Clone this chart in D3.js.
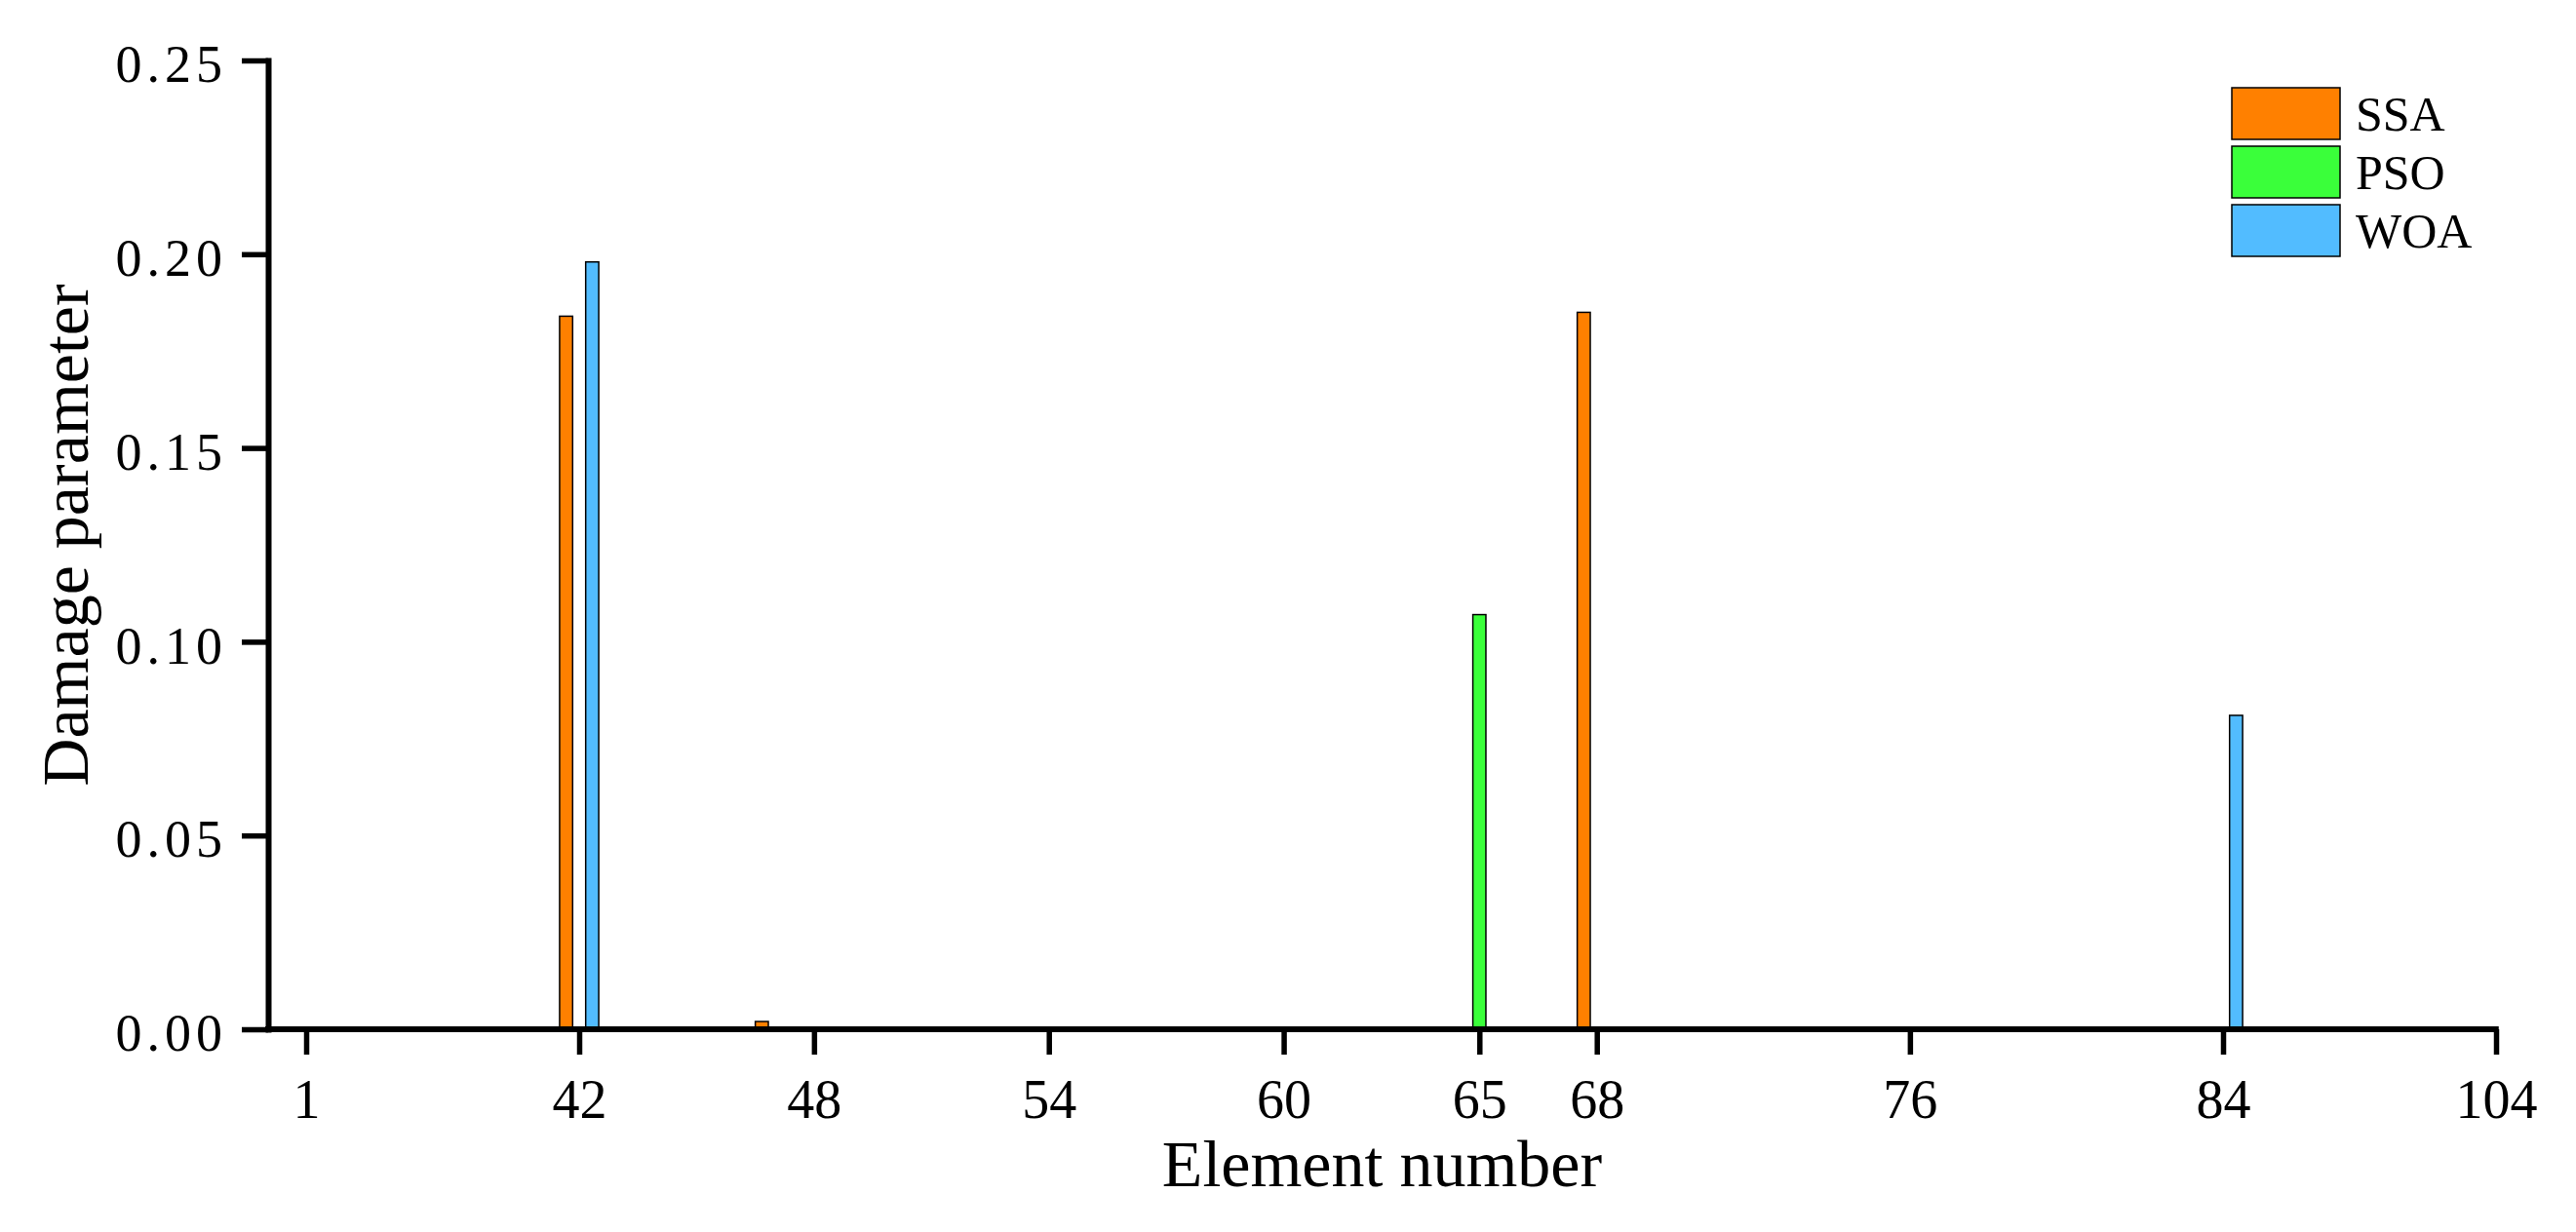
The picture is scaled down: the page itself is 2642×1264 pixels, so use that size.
<!DOCTYPE html>
<html>
<head>
<meta charset="utf-8">
<script src="https://cdn.jsdelivr.net/npm/d3@7"></script>
<style>
  html, body { margin: 0; padding: 0; background: #fff; }
  svg { display: block; }
  text { font-family: "Liberation Serif", "Times New Roman", serif; fill: #000; }
</style>
</head>
<body>
<div id="chart"></div>
<script>
// ---- Data ----
const seriesNames = ["SSA", "PSO", "WOA"];
const seriesColors = ["#FF8000", "#3AFF3A", "#52BCFF"];
const elements = [42, 47, 65, 68, 84];
const ssaValues = [0.184, 0.002, 0, 0.185, 0];
const psoValues = [0, 0, 0.107, 0, 0];
const woaValues = [0.198, 0, 0, 0, 0.081];
const xTickValues = [1, 42, 48, 54, 60, 65, 68, 76, 84, 104];
const xScaleBreaks = [1, 42, 84, 104];
const yTickValues = [0, 0.05, 0.10, 0.15, 0.20, 0.25];
const xTitle = "Element number";
const yTitle = "Damage parameter";

// ---- Layout ----
const W = 2642, H = 1264;
const plotLeft = 275, plotBottom = 1056, plotTop = 62;
const xRange = [314, 594, 2280, 2560];

const svg = d3.select("#chart").append("svg")
  .attr("width", W).attr("height", H);

const x = d3.scaleLinear().domain(xScaleBreaks).range(xRange);
const y = d3.scaleLinear().domain([0, 0.25]).range([plotBottom, plotTop]);

const unit = x(43) - x(42);
const inner = d3.scaleBand().domain(seriesNames).range([-unit / 2, unit / 2]).padding(0);

const valuesBySeries = [ssaValues, psoValues, woaValues];
const barData = [];
seriesNames.forEach((s, si) => {
  elements.forEach((e, ei) => {
    const v = valuesBySeries[si][ei];
    if (v > 0) barData.push({ series: s, color: seriesColors[si], element: e, value: v });
  });
});

// bars
svg.append("g").selectAll("rect").data(barData).join("rect")
  .attr("x", d => x(d.element) + inner(d.series))
  .attr("width", inner.bandwidth())
  .attr("y", d => y(d.value))
  .attr("height", d => y(0) - y(d.value))
  .attr("fill", d => d.color)
  .attr("stroke", "#000")
  .attr("stroke-width", 1.5);

// y axis
const yAxis = svg.append("g")
  .attr("transform", `translate(${plotLeft},0)`)
  .call(d3.axisLeft(y).tickValues(yTickValues).tickFormat(d3.format(".2f"))
    .tickSize(27).tickSizeOuter(0).tickPadding(15));
yAxis.select(".domain").attr("stroke", "#000").attr("stroke-width", 6).attr("stroke-linecap", "square");
yAxis.selectAll(".tick line").attr("stroke", "#000").attr("stroke-width", 5.5);
yAxis.selectAll(".tick text")
  .attr("font-size", 54)
  .attr("letter-spacing", 5)
  .attr("dy", "0.40em")
  .style("font-family", "'Liberation Serif', serif");

// x axis
const xAxis = svg.append("g")
  .attr("transform", `translate(0,${plotBottom})`)
  .call(d3.axisBottom(x).tickValues(xTickValues).tickFormat(d3.format("d"))
    .tickSize(26).tickSizeOuter(0).tickPadding(25));
xAxis.select(".domain").remove();
xAxis.append("line")
  .attr("x1", plotLeft - 3).attr("x2", x(104) + 2.75)
  .attr("y1", 0).attr("y2", 0)
  .attr("stroke", "#000").attr("stroke-width", 6);
xAxis.selectAll(".tick line").attr("stroke", "#000").attr("stroke-width", 5.5);
xAxis.selectAll(".tick text")
  .attr("font-size", 56)
  .style("font-family", "'Liberation Serif', serif");

// titles
svg.append("text")
  .attr("x", (plotLeft + x(104)) / 2).attr("y", 1217)
  .attr("text-anchor", "middle")
  .attr("font-size", 68)
  .text(xTitle);

svg.append("text")
  .attr("transform", `translate(90,549) rotate(-90)`)
  .attr("text-anchor", "middle")
  .attr("font-size", 68)
  .text(yTitle);

// legend
const legend = svg.append("g").attr("transform", "translate(2289,90)");
const li = legend.selectAll("g").data(seriesNames).join("g")
  .attr("transform", (d, i) => `translate(0,${i * 60})`);
li.append("rect")
  .attr("width", 111).attr("height", 53)
  .attr("fill", (d, i) => seriesColors[i])
  .attr("stroke", "#000").attr("stroke-width", 1.5);
li.append("text")
  .attr("x", 127).attr("y", 44)
  .attr("font-size", 50)
  .text(d => d);
</script>
</body>
</html>
